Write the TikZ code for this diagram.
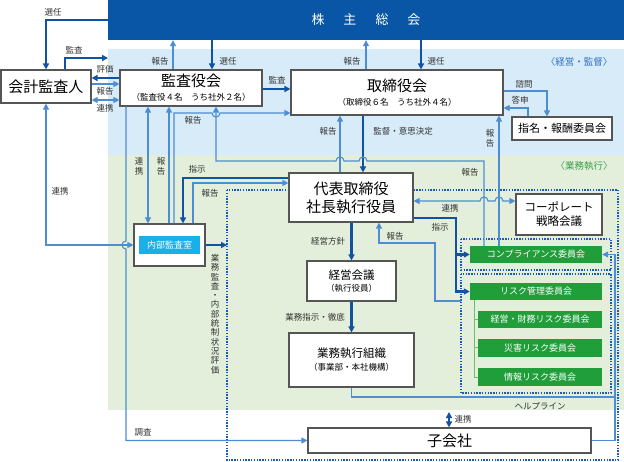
\documentclass[tikz,border=0pt]{standalone}
\usepackage{fontspec}
\setmainfont{Noto Sans CJK JP}
\usetikzlibrary{arrows.meta}
\definecolor{band}{HTML}{0A56A6}
\definecolor{zblue}{HTML}{D7EBF8}
\definecolor{zgreen}{HTML}{E3EFDA}
\definecolor{dk}{HTML}{1252A3}
\definecolor{lt}{HTML}{4E8DD2}
\definecolor{grn}{HTML}{1F9E3A}
\definecolor{lgrn}{HTML}{6CC06C}
\definecolor{cy}{HTML}{1AAFE8}
\definecolor{txt}{HTML}{333333}
\definecolor{bord}{HTML}{555555}
\definecolor{dotc}{HTML}{1A5BB5}
\definecolor{zbtxt}{HTML}{2E6EC0}
\definecolor{zgtxt}{HTML}{3A9F4A}
\begin{document}
\begin{tikzpicture}[x=1pt,y=-1pt,
  box/.style={draw=bord, line width=1.1pt, fill=white, inner sep=0pt, align=center, text=black},
  gbox/.style={fill=grn, text=white, inner sep=0pt, font=\fontsize{9}{10}\selectfont},
  thk/.style={draw=dk, line width=2.2pt},
  thn/.style={draw=lt, line width=1.1pt},
  tip/.style={-{Triangle[length=6pt,width=6pt]}},
  dtip/.style={{Triangle[length=6pt,width=6pt]}-{Triangle[length=6pt,width=6pt]}},
  lbl/.style={font=\fontsize{8.5}{9.5}\selectfont, text=txt, inner sep=0pt},
  vlbl/.style={font=\fontsize{8.5}{10}\selectfont, text=txt, inner sep=0pt, align=center},
  dots/.style={draw=dotc, line width=1.3pt, dash pattern=on 1.4pt off 1.4pt},
]
\useasboundingbox (0,0) rectangle (624,462);
% zones
\fill[white] (0,0) rectangle (624,462);
\fill[zblue] (108,49) rectangle (624,155);
\fill[zgreen] (108,155) rectangle (624,410);
\node[fill=band, minimum width=516pt, minimum height=40pt, inner sep=0pt, text=white,
  font=\fontsize{13}{15}\selectfont] (soukai) at (366,20) {株\hspace{19pt}主\hspace{19pt}総\hspace{19pt}会};
\node[font=\fontsize{9.5}{11}\selectfont, text=zbtxt, inner sep=0pt] (zl1) at (579,62) {〈経営・監督〉};
\node[font=\fontsize{9.5}{11}\selectfont, text=zgtxt, inner sep=0pt] (zl2) at (584,166) {〈業務執行〉};
% dotted groups
\draw[dots] (227,190) rectangle (618,460);
\draw[dots] (461,239) rectangle (611,270);
\draw[dots] (461,274) rectangle (611,393);

% nodes
\node[box, minimum width=90pt, minimum height=33pt, font=\fontsize{15}{17}\selectfont] (kaikei) at (46,86.5) {会計監査人};
\node[box, minimum width=142pt, minimum height=36pt] (kansa) at (191,88)
  {\fontsize{15}{15}\selectfont 監査役会\\[2pt]\fontsize{8.5}{9}\selectfont （監査役４名　うち社外２名）};
\node[box, minimum width=212pt, minimum height=45pt] (torishimari) at (397,92.5)
  {\fontsize{15}{15}\selectfont 取締役会\\[2pt]\fontsize{8.5}{9}\selectfont （取締役６名　うち社外４名）};
\node[box, minimum width=100pt, minimum height=23pt, font=\fontsize{11}{12}\selectfont] (shimei) at (562,128.5) {指名・報酬委員会};
\node[box, minimum width=124pt, minimum height=49pt, font=\fontsize{15}{18}\selectfont] (daihyo) at (351,197.5) {代表取締役\\社長執行役員};
\node[box, minimum width=86pt, minimum height=41pt, font=\fontsize{11.5}{14}\selectfont] (corp) at (559,214.5) {コーポレート\\戦略会議};
\node[box, minimum width=71pt, minimum height=42pt] (naibu) at (169.5,245) {};
\node[fill=cy, text=white, minimum width=61pt, minimum height=18pt, inner sep=0pt, font=\fontsize{9}{10}\selectfont] (naibulbl) at (169.5,245) {内部監査室};
\node[box, minimum width=89pt, minimum height=40pt] (keiei) at (351.5,281)
  {\fontsize{11.5}{12}\selectfont 経営会議\\[0pt]\fontsize{8.5}{9}\selectfont （執行役員）};
\node[box, minimum width=125pt, minimum height=54pt] (gyomu) at (351.5,360)
  {\fontsize{11.5}{12}\selectfont 業務執行組織\\[1pt]\fontsize{8.5}{9}\selectfont （事業部・本社機構）};
\node[box, minimum width=283pt, minimum height=25pt, font=\fontsize{15}{17}\selectfont] (kogaisha) at (449.5,440.5) {子会社};
\node[gbox, minimum width=132pt, minimum height=17pt] (comp) at (536,254.5) {コンプライアンス委員会};
\node[gbox, minimum width=132pt, minimum height=17pt] (risk) at (536,291.5) {リスク管理委員会};
\node[gbox, minimum width=124pt, minimum height=17pt] (zaimu) at (540,319.5) {経営・財務リスク委員会};
\node[gbox, minimum width=124pt, minimum height=18pt] (saigai) at (540,348) {災害リスク委員会};
\node[gbox, minimum width=124pt, minimum height=18pt] (joho) at (540,377) {情報リスク委員会};
\draw[lgrn, line width=1pt] (risk.south -| 474,0) -- (474,377) -- (joho.west);
\draw[lgrn, line width=1pt] (474,319.5) -- (zaimu.west);
\draw[lgrn, line width=1pt] (474,348) -- (saigai.west);

% free ends
\coordinate (auditEnd) at (108,58);
\coordinate (dotEdge) at (227,245);
\coordinate (riskOut) at (461,301);
\coordinate (renkeiTop) at (449,412);

% thick connectors
\draw[thk, tip] (soukai.west) -| (kaikei.north);
\draw[thk, tip] (kaikei.north -| 65,0) |- (auditEnd);
\draw[thk, tip] (kansa.west |- 0,78) -- (kaikei.east |- 0,78);
\draw[thk, tip] (soukai.south -| 212,0) -- (kansa.north -| 212,0);
\draw[thk, tip] (kansa.east |- 0,89) -- (torishimari.west |- 0,89);
\draw[thk, tip] (soukai.south -| 421,0) -- (torishimari.north -| 421,0);
\draw[thk, tip] (torishimari.south -| 363,0) -- (daihyo.north -| 363,0);
\draw[thk, tip] (daihyo.west |- 0,178) -| (naibu.north -| 183,0);
\draw[thk, tip] (naibu.east) -- (dotEdge);
\draw[thk] (daihyo.east |- 0,218) -- (456,218) -- (456,254.5);
\draw[thk, tip] (456,254.5) -- (comp.west);
\draw[thk, tip] (456,254.5) |- (risk.west);
\draw[thk, tip] (daihyo.south -| 351.5,0) -- (keiei.north);
\draw[thk, tip] (keiei.south) -- (gyomu.north);

% thin connectors
\draw[thn, tip] (kaikei.east |- 0,84) -- (kansa.west |- 0,84);
\draw[thn, dtip] (kaikei.east |- 0,100) -- (kansa.west |- 0,100);
\draw[thn, tip] (kansa.north -| 173,0) -- (soukai.south -| 173,0);
\draw[thn, tip] (torishimari.north -| 366,0) -- (soukai.south -| 366,0);
\draw[thn, tip] (torishimari.east |- 0,91) -| (shimei.north -| 547,0);
\draw[thn, tip] (shimei.north -| 528,0) |- (torishimari.east |- 0,108);
\draw[thn, tip] (daihyo.north -| 340,0) -- (torishimari.south -| 340,0);
\draw[thn, dtip] (kaikei.south) -- (46,245) -- (naibu.west);
\draw[thn, tip] (kansa.south -| 126,0) -- (126,241) .. controls (120.7,241) and (120.7,249) .. (126,249) |- (kogaisha.west);
\draw[thn, dtip] (kansa.south -| 148,0) -- (naibu.north -| 148,0);
\draw[thn, tip] (naibu.north -| 169,0) -- (kansa.south -| 169,0);
\draw[thn, tip] (naibu.north -| 174,0) -- (174,113) -- (212,113) .. controls (212,118.3) and (220,118.3) .. (220,113) -- (torishimari.west |- 0,113);
\draw[thn, tip] (naibu.north -| 193,0) |- (daihyo.west |- 0,183);
\draw[thn, tip] (comp.north -| 484,0) -- (484,161) -- (367,161) .. controls (367,155.7) and (359,155.7) .. (359,161)
  -- (344,161) .. controls (344,155.7) and (336,155.7) .. (336,161) -- (216,161) -- (kansa.south -| 216,0);
\draw[thn, tip] (comp.north -| 499,0) -- (torishimari.south -| 499,0);
\draw[thn, dtip] (daihyo.east |- 0,201) -- (480,201) .. controls (480,195.7) and (488,195.7) .. (488,201)
  -- (495,201) .. controls (495,195.7) and (503,195.7) .. (503,201) -- (corp.west |- 0,201);
\draw[thn, tip] (riskOut) -- (435,301) -- (435,243) -- (379,243) -- (daihyo.south -| 379,0);
\draw[thn] (gyomu.south) |- (615,397);
\draw[thn, tip] (kogaisha.east) -- (615,440.5) -- (615,254.5) -- (comp.east);
\draw[draw=dk, line width=1.6pt, dtip] (renkeiTop) -- (kogaisha.north -| renkeiTop);

% labels
\node[lbl] (t1) at (53,12) {選任};
\node[lbl] (t2) at (74,50) {監査};
\node[lbl] (t3) at (105,69) {評価};
\node[lbl] (t4) at (105,91) {報告};
\node[lbl] (t5) at (105,108) {連携};
\node[lbl] (t6) at (160,61) {報告};
\node[lbl] (t7) at (228,61) {選任};
\node[lbl] (t8) at (277,80) {監査};
\node[lbl] (t9) at (352,61) {報告};
\node[lbl] (t10) at (436,61) {選任};
\node[lbl] (t11) at (524,84) {諮問};
\node[lbl] (t12) at (520,100) {答申};
\node[lbl] (t13) at (193,120) {報告};
\node[lbl] (t14) at (328,131) {報告};
\node[lbl] (t15) at (403,131) {監督・意思決定};
\node[vlbl] (t16) at (490,138) {報\\告};
\node[lbl] (t17) at (470,172) {報告};
\node[vlbl] (t18) at (139,166) {連\\携};
\node[vlbl] (t19) at (161,166) {報\\告};
\node[lbl] (t20) at (60,191) {連携};
\node[lbl] (t21) at (197,169) {指示};
\node[lbl] (t22) at (210,193) {報告};
\node[lbl] (t23) at (450,208) {連携};
\node[lbl] (t24) at (440,227) {指示};
\node[lbl] (t25) at (395,236) {報告};
\node[lbl] (t26) at (328,241) {経営方針};
\node[lbl] (t27) at (315,317) {業務指示・徹底};
\node[font=\fontsize{8.5}{9.3}\selectfont, text=txt, inner sep=0pt, align=center] (t28) at (215,314)
  {業\\務\\監\\査\\・\\内\\部\\統\\制\\状\\況\\評\\価};
\node[lbl] (t29) at (143,432) {調査};
\node[lbl] (t30) at (540,406) {ヘルプライン};
\node[lbl] (t31) at (463,419) {連携};
\end{tikzpicture}
\end{document}
